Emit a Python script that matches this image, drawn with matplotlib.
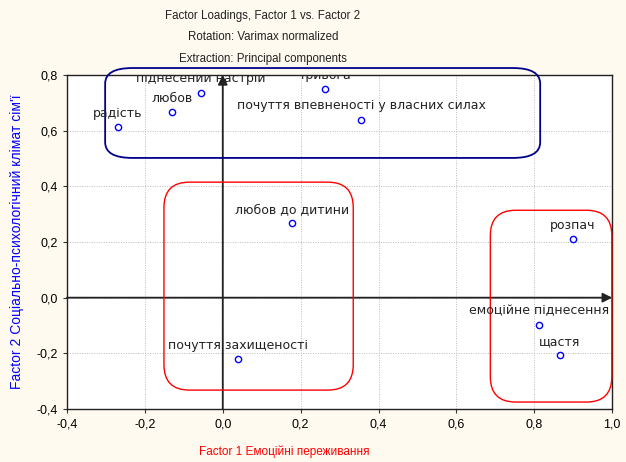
import matplotlib
matplotlib.use('Agg')
import matplotlib.pyplot as plt
from matplotlib.patches import FancyBboxPatch
import numpy as np

# factor loadings (Factor 1, Factor 2)
names = ['радість', 'любов', 'піднесений настрій', 'тривога',
         'почуття впевненості у власних силах', 'любов до дитини',
         'почуття захищеності', 'розпач', 'емоційне піднесення', 'щастя']
f1 = [-0.269, -0.130, -0.056, 0.263, 0.355, 0.179, 0.040, 0.898, 0.812, 0.866]
f2 = [0.613, 0.667, 0.736, 0.750, 0.639, 0.268, -0.221, 0.211, -0.098, -0.207]

# grouping frames: (x0, y0, x1, y1)
groups = [(-0.302, 0.502, 0.815, 0.825),
          (-0.151, -0.332, 0.335, 0.415),
          (0.687, -0.375, 0.999, 0.314)]
group_colors = ['#00008B', '#FF0000', '#FF0000']

xticks = np.arange(-0.4, 1.01, 0.2)
yticks = np.arange(-0.4, 0.81, 0.2)

def comma(v):
    return ('%.1f' % v).replace('.', ',').replace('-0,0', '0,0')

fig = plt.figure(figsize=(6.26, 4.62), dpi=100, facecolor='#FFFAF0')
ax = fig.add_axes([0.107, 0.1147, 0.871, 0.723])
ax.set_facecolor('white')
ax.set_xlim(-0.4, 1.0)
ax.set_ylim(-0.4, 0.8)
ax.set_xticks(xticks)
ax.set_yticks(yticks)
ax.set_xticklabels([comma(v) for v in xticks], family='Liberation Sans', fontsize=9)
ax.set_yticklabels([comma(v) for v in yticks], family='Liberation Sans', fontsize=9)
ax.tick_params(length=3, width=0.8, color='#333333')
ax.grid(True, linestyle=(0, (1, 1.5)), color='#BBBBBB', linewidth=0.7)
for s in ax.spines.values():
    s.set_color('#222222')
    s.set_linewidth(1.0)

# arrows for the axes through zero
ax.annotate('', xy=(1.0, 0), xytext=(-0.4, 0),
            arrowprops=dict(arrowstyle='-|>', color='#222222', lw=1.3,
                            mutation_scale=14, shrinkA=0, shrinkB=0))
ax.annotate('', xy=(0, 0.8), xytext=(0, -0.4),
            arrowprops=dict(arrowstyle='-|>', color='#222222', lw=1.3,
                            mutation_scale=14, shrinkA=0, shrinkB=0))

ax.plot(f1, f2, 'o', mfc='none', mec='blue', ms=4.5, mew=1.0, zorder=5)
for n, x, y in zip(names, f1, f2):
    t = ax.annotate(n, (x, y), xytext=(0, 10), textcoords='offset points',
                    ha='center', va='center', fontsize=9, color='#222222',
                    family='DejaVu Sans', zorder=6)
    t.set_clip_on(True)
    t.set_clip_path(ax.patch)

for (x0, y0, x1, y1), c in zip(groups, group_colors):
    if c == '#00008B':
        style, asp, lw = 'round,pad=0,rounding_size=0.07', 0.8, 1.3
    else:
        style, asp, lw = 'round,pad=0,rounding_size=0.065', 1.4, 1.0
    p = FancyBboxPatch((x0, y0), x1 - x0, y1 - y0, boxstyle=style,
                       mutation_aspect=asp, fill=False, edgecolor=c,
                       linewidth=lw, clip_on=False, zorder=4)
    ax.add_patch(p)

fig.text(263 / 626, 1 - 16 / 462, 'Factor Loadings, Factor 1 vs. Factor 2',
         ha='center', va='center', fontsize=8.3, family='Liberation Sans', color='#222222')
fig.text(263 / 626, 1 - 37 / 462, 'Rotation: Varimax normalized',
         ha='center', va='center', fontsize=8.3, family='Liberation Sans', color='#222222')
fig.text(263 / 626, 1 - 59 / 462, 'Extraction: Principal components',
         ha='center', va='center', fontsize=8.3, family='Liberation Sans', color='#222222')
fig.text(284 / 626, 1 - 452 / 462, 'Factor 1 Емоційні переживання',
         ha='center', va='center', fontsize=8.5, family='Liberation Sans', color='#FF0000')
fig.text(17 / 626, 1 - 242 / 462, 'Factor 2 Соціально-психологічний клімат сім\'ї',
         ha='center', va='center', rotation=90, fontsize=10,
         family='Liberation Sans', color='#0000FF')

fig.savefig('out.png', dpi=100, facecolor=fig.get_facecolor())
